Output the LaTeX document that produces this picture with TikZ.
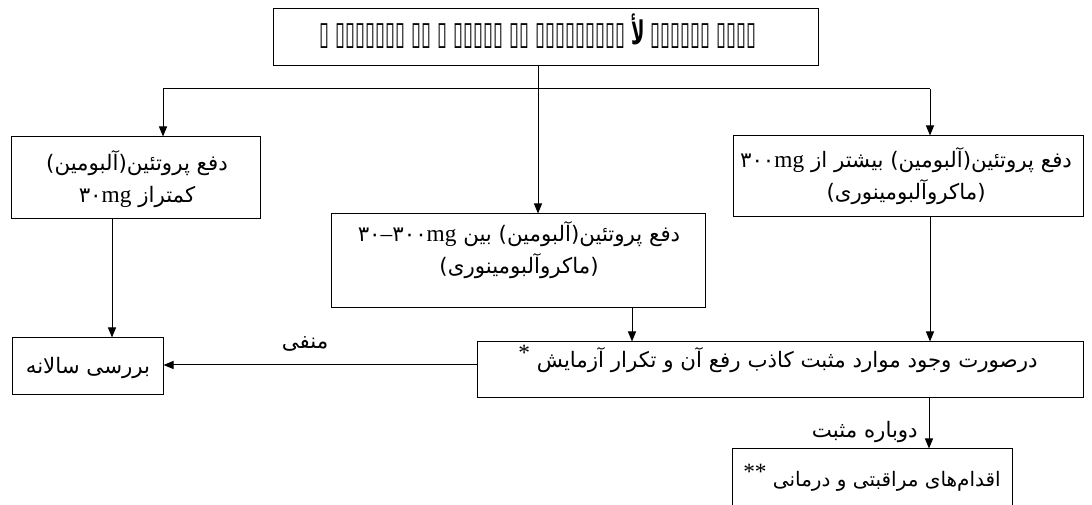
\documentclass[tikz,border=0pt]{standalone}
\usepackage{fontspec}
\setmainfont{Liberation Serif}
\newfontfamily\arfont[Script=Arabic]{DejaVu Sans}
\newfontfamily\symfont{DejaVu Sans}
\TeXXeTstate=1
\usetikzlibrary{arrows.meta}
\newcommand\lat[1]{{\rmfamily\fontsize{17.5}{24}\selectfont #1}}
\newcommand\fa[1]{{\arfont #1}}
\begin{document}
\begin{tikzpicture}[x=0.75pt,y=-0.75pt,
  box/.style={draw, line width=0.75pt, inner sep=0pt},
  txt/.style={inner sep=0pt, align=center, font=\arfont\fontsize{16}{24}\selectfont},
  arr/.style={line width=0.75pt, -{Triangle[length=7.5pt,width=6pt]}},
  ln/.style={line width=0.75pt}]
\clip (0,0) rectangle (1092,505);
% boxes
\node[box, minimum width=408.75pt, minimum height=42.75pt] (top) at (545.5,37.5) {};
\node[box, minimum width=186.75pt, minimum height=61.5pt] (low) at (135.5,178) {};
\node[box, minimum width=280.5pt, minimum height=70.5pt] (mid) at (518,261) {};
\node[box, minimum width=262.5pt, minimum height=60.75pt] (high) at (908,176.5) {};
\node[box, minimum width=113.25pt, minimum height=42.75pt] (annual) at (87.5,366.5) {};
\node[box, minimum width=454.5pt, minimum height=42pt] (big) at (780,370) {};
\node[box, minimum width=210pt, minimum height=46.5pt] (act) at (872,480) {};
% texts
\node[inner sep=0pt] (toptext) at (538,31) {\scalebox{1}[1.8]{\resizebox{328pt}{!}{\symfont\bfseries ▯ ▯▯▯▯▯▯▯ ▯▯ ▯ ▯▯▯▯▯ ▯▯ ▯▯▯▯▯▯▯▯▯ {\arfont\beginR لأ\endR} ▯▯▯▯▯▯ ▯▯▯▯}}};
\node[txt] (lowtext) at (137,179) {\beginR دفع پروتئین(آلبومین)\endR\\
  \beginR کمتراز \beginL\fa{۳۰}\lat{mg}\endL\endR};
\node[txt] (midtext) at (519,250) {\beginR دفع پروتئین(آلبومین) بین \beginL\fa{۳۰}\lat{–}\fa{۳۰۰}\lat{mg}\endL\endR\\
  \beginR (ماکروآلبومینوری)\endR};
\node[txt] (hightext) at (906,176) {\beginR دفع پروتئین(آلبومین) بیشتر از \beginL\fa{۳۰۰}\lat{mg}\endL\endR\\
  \beginR (ماکروآلبومینوری)\endR};
\node[txt] (annualtext) at (88,368) {\beginR بررسی سالانه\endR};
\node[txt] (bigtext) at (778,359) {\beginR درصورت وجود موارد مثبت کاذب رفع آن و تکرار آزمایش \raisebox{5pt}{\lat{*}}\endR};
\node[txt, font=\arfont\fontsize{15}{24}\selectfont] (acttext) at (872,478) {\beginR اقدام‌های مراقبتی و درمانی \raisebox{5pt}{\lat{**}}\endR};
% connectors
\coordinate (jn) at (538,89);
\coordinate (jl) at (163,89);
\coordinate (jr) at (930,89);
\coordinate (xl) at (112,0);
\coordinate (xm) at (632,0);
\coordinate (xb) at (929,0);
\coordinate (yh) at (0,365);
\draw[ln] (top.south -| jn) -- (jn);
\draw[ln] (jl) -- (jr);
\draw[arr] (jl) -- (low.north -| jl);
\draw[arr] (jn) -- (mid.north -| jn);
\draw[arr] (jr) -- (high.north -| jr);
\draw[arr] (low.south -| xl) -- (annual.north -| xl);
\draw[arr] (mid.south -| xm) -- (big.north -| xm);
\draw[arr] (high.south -| jr) -- (big.north -| jr);
\draw[arr] (big.west |- yh) -- (annual.east |- yh);
\draw[arr] (big.south -| xb) -- (act.north -| xb);
\node[txt] (neg) at (305,344) {\beginR منفی\endR};
\node[txt, anchor=east] (again) at (918,432) {\beginR دوباره مثبت\endR};
\end{tikzpicture}
\end{document}
